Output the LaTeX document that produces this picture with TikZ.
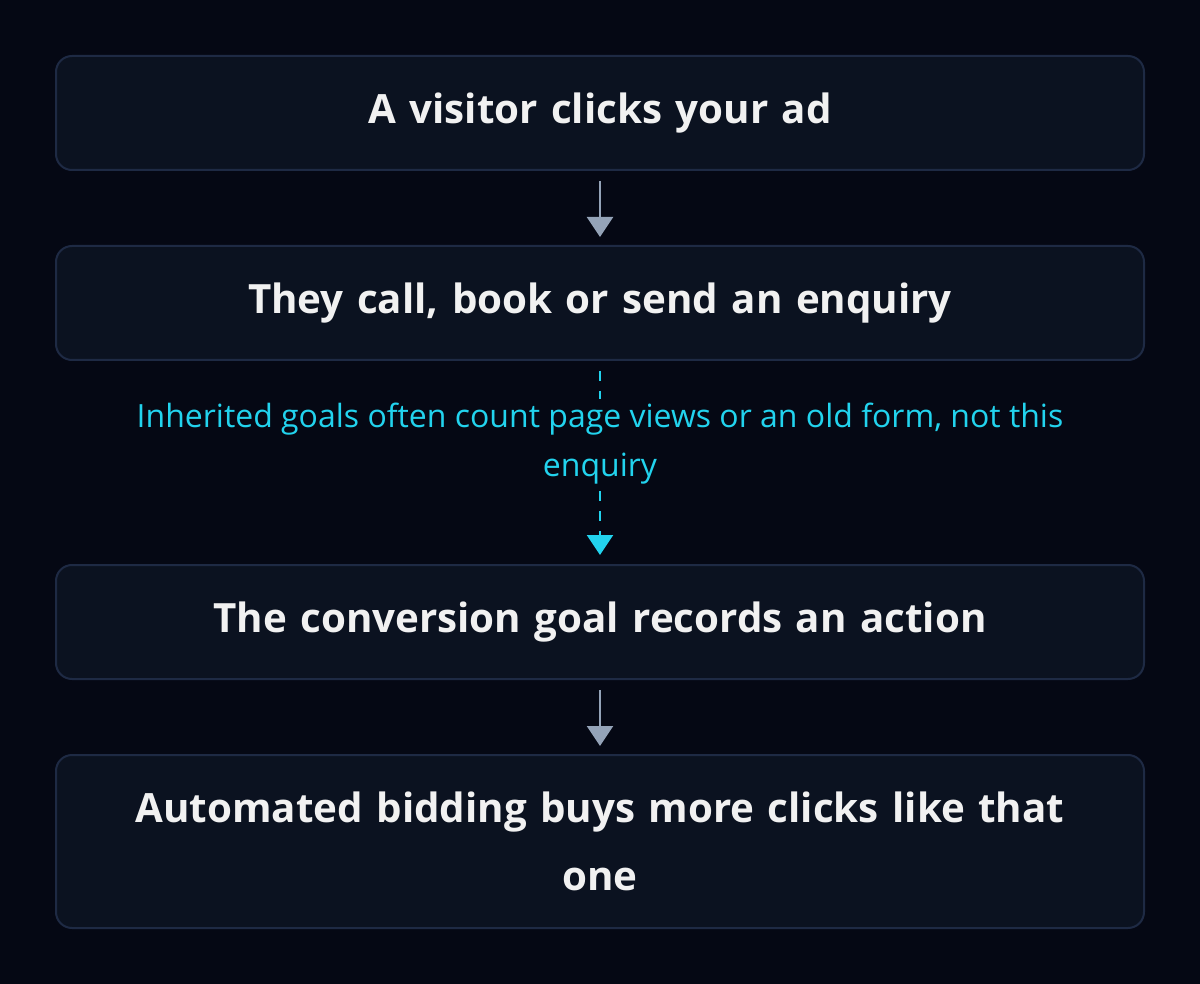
\documentclass[tikz,border=0pt]{standalone}
\usepackage{fontspec}
\setmainfont{Open Sans}
\usetikzlibrary{arrows.meta}
\definecolor{bg}{HTML}{050814}
\definecolor{boxfill}{HTML}{0B1220}
\definecolor{boxline}{HTML}{1E2A44}
\definecolor{arrowgray}{HTML}{94A3B8}
\definecolor{cyanc}{HTML}{22D3EE}
\definecolor{txt}{HTML}{F1F1F1}
\tikzset{
  stepbox/.style={draw=boxline, line width=2pt, fill=boxfill, rounded corners=16pt,
    minimum width=1088pt, text width=1040pt, align=center, text=txt,
    font=\fontsize{40.3}{68}\selectfont\bfseries},
  flow/.style={draw=arrowgray, line width=2.5pt, -{Triangle[width=26pt,length=20pt]},
    shorten <=10pt, shorten >=8pt},
  warn/.style={draw=cyanc, line width=2.5pt, dash pattern=on 10pt off 10pt,
    -{Triangle[width=26pt,length=20pt]}, shorten <=10pt, shorten >=9pt},
  warnlabel/.style={fill=bg, text=cyanc, align=center, inner sep=4pt,
    font=\fontsize{32}{49}\selectfont}
}
\begin{document}
\begin{tikzpicture}[x=1pt,y=-1pt]
\fill[bg] (0,0) rectangle (1200,984);
\useasboundingbox (0,0) rectangle (1200,984);
\node[stepbox, minimum height=114pt] (b1) at (600,113) {A visitor clicks your ad};
\node[stepbox, minimum height=114pt] (b2) at (600,303) {They call, book or send an enquiry};
\node[stepbox, minimum height=114pt] (b3) at (600,622) {The conversion goal records an action};
\node[stepbox, minimum height=173pt] (b4) at (600,841.5) {Automated bidding buys more clicks like that\\one};
\draw[flow] (b1.south) -- (b2.north);
\draw[warn] (b2.south) -- (b3.north);
\node[warnlabel] (lbl) at (600,444) {Inherited goals often count page views or an old form, not this\\enquiry};
\draw[flow] (b3.south) -- (b4.north);
\end{tikzpicture}
\end{document}
